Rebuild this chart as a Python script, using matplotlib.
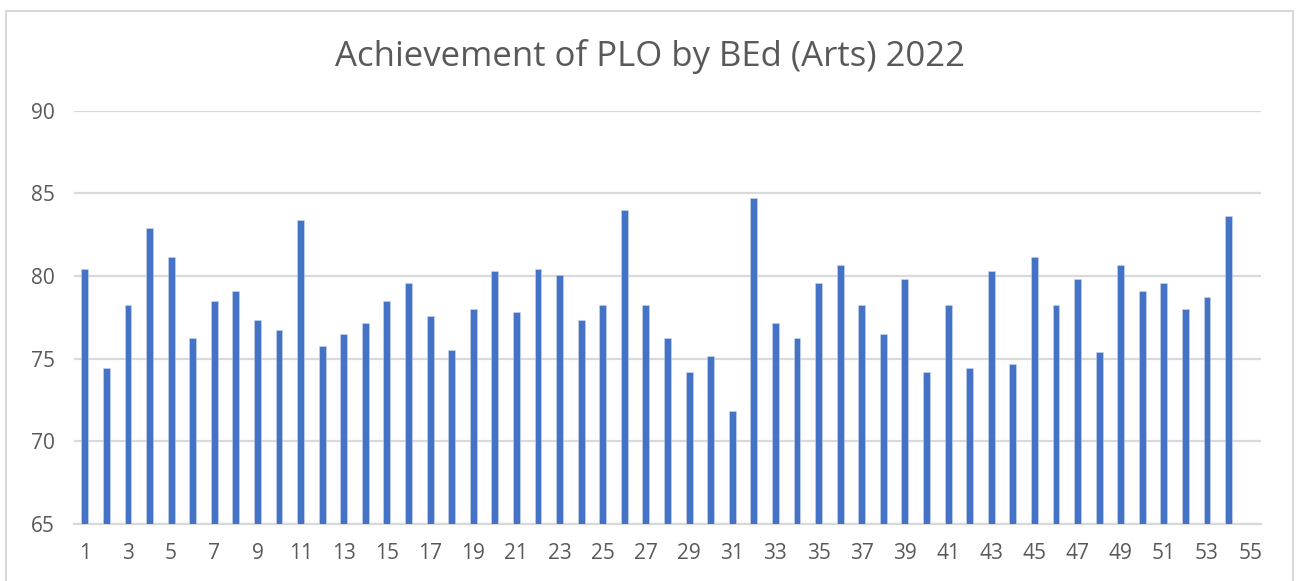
import numpy as np
import matplotlib.pyplot as plt
from matplotlib.patches import Rectangle

# categories 1..55 (55 has no value)
categories = np.arange(1, 56)
scores = [80.42, 74.46, 78.25, 82.90, 81.13, 76.23, 78.49, 79.11, 77.32, 76.71,
          83.37, 75.79, 76.47, 77.18, 78.49, 79.56, 77.56, 75.54, 78.02, 80.28,
          77.80, 80.42, 80.04, 77.32, 78.25, 83.99, 78.25, 76.23, 74.21, 75.14,
          71.83, 84.70, 77.18, 76.23, 79.56, 80.65, 78.25, 76.47, 79.80, 74.21,
          78.25, 74.46, 80.28, 74.70, 81.13, 78.25, 79.80, 75.38, 80.65, 79.11,
          79.56, 78.02, 78.71, 83.61]
xtick_labels = [str(c) for c in categories[::2]]
yticks = [65, 70, 75, 80, 85, 90]

grey_text = '#595959'
grid_col = '#D9D9D9'

plt.rcParams['font.family'] = ['Open Sans', 'DejaVu Sans']

fig = plt.figure(figsize=(13.01, 5.81), dpi=100)
ax = fig.add_axes([74 / 1301, 1 - 524 / 581, (1261 - 74) / 1301, (524 - 110.7) / 581])

# outer chart frame
fig.patches.append(Rectangle((6 / 1301, -0.05), (1293 - 6) / 1301, 1.05 - 11 / 581,
                             transform=fig.transFigure, fill=False,
                             edgecolor=grid_col, linewidth=1.5))

ax.bar(categories[:len(scores)], np.array(scores) - 65, bottom=65, width=0.32,
       color='#4472C4', edgecolor='#c9d6ee', linewidth=0.4, zorder=3)

ax.set_xlim(0.5, 55.5)
ax.set_ylim(65, 90)
ax.set_yticks(yticks)
ax.set_xticks(categories[::2])
ax.set_xticklabels(xtick_labels)
ax.grid(axis='y', color=grid_col, linewidth=1.6, zorder=0)
ax.tick_params(length=0, labelsize=15, colors=grey_text, pad=14)
ax.tick_params(axis='y', pad=14)
for s in ['top', 'right', 'left']:
    ax.spines[s].set_visible(False)
ax.spines['bottom'].set_color(grid_col)
ax.spines['bottom'].set_linewidth(1.6)

fig.text(650 / 1301, 1 - 57 / 581, 'Achievement of PLO by BEd (Arts) 2022',
         ha='center', va='center', fontsize=25, color=grey_text)

fig.savefig('out.png', dpi=100)
